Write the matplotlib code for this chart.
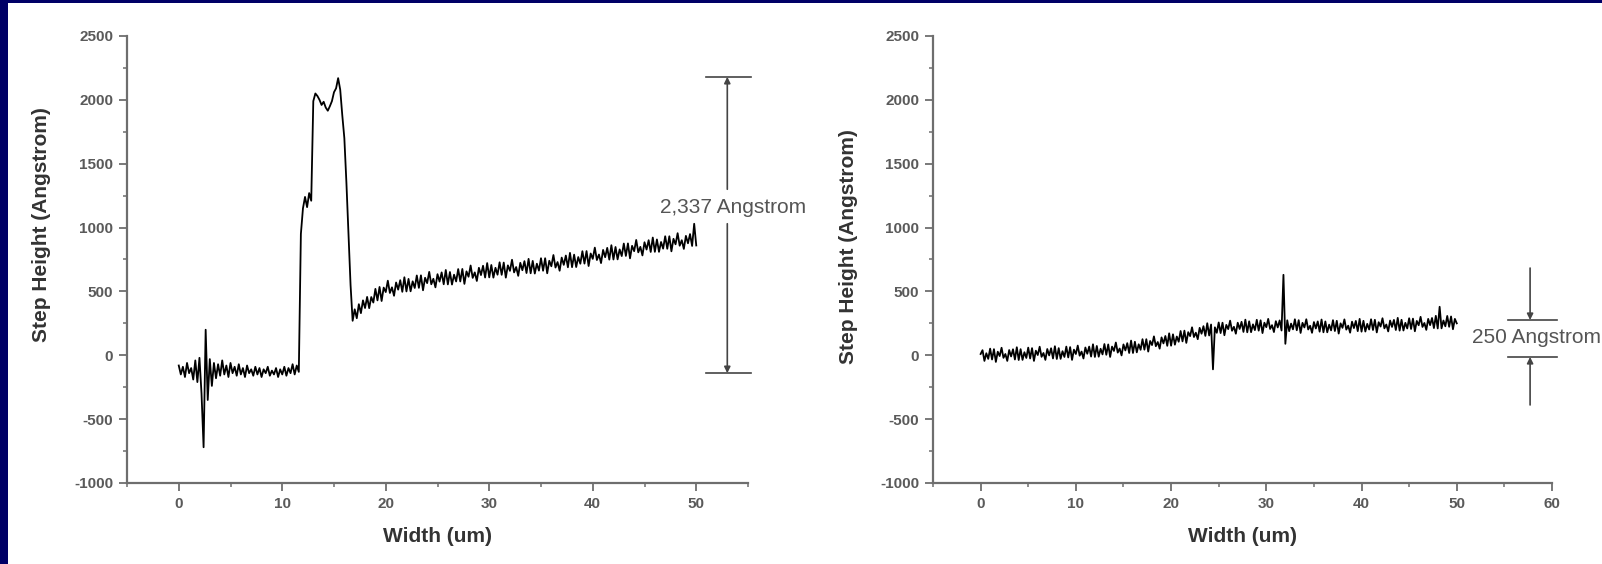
import numpy as np
import matplotlib
matplotlib.use("Agg")
import matplotlib.pyplot as plt
from matplotlib.ticker import MultipleLocator
from matplotlib.patches import Rectangle

plt.rcParams['font.family'] = ['Liberation Sans', 'DejaVu Sans']
plt.rcParams['axes.unicode_minus'] = False

# profiler samples every 0.2 um, starting at 0
step_um = 0.2

# left scan (before etch) - step height in Angstrom
height_left = [
    # 0.0 - 11.6 : substrate level, noisy spike near 2.5 um
    -80, -150, -90, -170, -60, -140, -100, -190, -40, -210,
    -20, -300, -720, 200, -350, -30, -240, -60, -180, -70,
    -160, -40, -150, -80, -170, -60, -140, -90, -160, -70,
    -150, -100, -170, -80, -140, -110, -160, -90, -150, -100,
    -170, -110, -140, -90, -160, -120, -150, -100, -170, -110,
    -150, -90, -160, -100, -140, -70, -150, -80, -130,
    # 11.8 - 18.0 : step up, double peak, drop
    950, 1150, 1240, 1160, 1270, 1210, 1990, 2050, 2030, 2000,
    1960, 1985, 1940, 1915, 1950, 1990, 2060, 2090, 2170, 2080,
    1880, 1700, 1350, 950, 550, 270, 360, 290, 400, 330,
    430, 370,
    # 18.2 - 50.0 : slowly rising film
    457, 369, 456, 413, 520, 430, 535, 425, 530, 495,
    584, 488, 532, 466, 570, 514, 588, 497, 611, 500,
    598, 501, 579, 527, 625, 528, 626, 509, 607, 565,
    653, 556, 599, 532, 635, 577, 649, 556, 668, 555,
    652, 554, 631, 578, 675, 578, 676, 559, 657, 615,
    703, 606, 649, 582, 685, 628, 701, 609, 722, 610,
    707, 608, 685, 631, 728, 630, 726, 608, 704, 661,
    748, 649, 691, 622, 724, 666, 737, 644, 755, 642,
    739, 640, 717, 663, 760, 662, 760, 642, 740, 697,
    785, 687, 730, 662, 765, 708, 781, 689, 802, 690,
    788, 691, 769, 717, 815, 718, 816, 699, 797, 755,
    843, 746, 789, 722, 825, 768, 841, 749, 862, 750,
    848, 751, 829, 777, 875, 778, 876, 759, 857, 815,
    903, 806, 849, 782, 885, 828, 901, 809, 922, 810,
    907, 810, 887, 835, 932, 834, 932, 814, 912, 869,
    956, 858, 901, 833, 935, 877, 949, 856, 1030, 860,
]

# right scan (after etch)
height_right = [
    10,
    40, -44, 16, -28, 52, -33, 48, -52, 28, -6,
    59, -20, 10, -44, 41, -9, 47, -33, 63, -37,
    48, -36, 24, -21, 60, -25, 56, -44, 36, 2,
    67, -12, 18, -36, 49, -1, 55, -25, 71, -29,
    56, -28, 32, -13, 68, -17, 64, -36, 44, 10,
    76, -3, 29, -25, 61, 12, 68, -10, 86, -13,
    73, -11, 51, 7, 88, 4, 85, -13, 68, 34,
    100, 21, 53, -1, 85, 38, 95, 18, 115, 18,
    106, 23, 86, 43, 126, 44, 126, 29, 112, 80,
    148, 71, 104, 52, 140, 93, 151, 74, 172, 75,
    164, 83, 147, 106, 190, 109, 193, 97, 181, 150,
    219, 143, 177, 126, 215, 169, 228, 152, 251, 155,
    241, -110, 219, 176, 257, 174, 255, 157, 238, 205,
    271, 192, 223, 169, 255, 206, 262, 183, 279, 180,
    266, 181, 242, 197, 278, 193, 274, 174, 255, 220,
    285, 206, 236, 182, 267, 218, 273, 194, 630, 90,
    274, 189, 248, 203, 282, 196, 275, 175, 254, 218,
    282, 202, 231, 176, 260, 210, 265, 185, 280, 180,
    265, 180, 240, 195, 275, 190, 270, 170, 250, 215,
    281, 201, 232, 177, 263, 213, 269, 189, 285, 185,
    270, 186, 246, 202, 282, 198, 278, 179, 259, 225,
    290, 211, 241, 187, 272, 222, 277, 198, 293, 193,
    278, 194, 254, 210, 290, 206, 287, 188, 269, 235,
    301, 222, 253, 199, 285, 236, 292, 213, 309, 210,
    380, 211, 272, 227, 308, 223, 304, 204, 285, 250,
]

x_left = np.arange(len(height_left)) * step_um
x_right = np.arange(len(height_right)) * step_um

y_ticks = [-1000, -500, 0, 500, 1000, 1500, 2000, 2500]

axis_grey = '#6e6e6e'
tick_grey = '#5a5a5a'
label_grey = '#333333'
note_grey = '#555555'

fig = plt.figure(figsize=(16.02, 5.64), dpi=100)
fig.patch.set_facecolor('white')
# navy slide frame on left and top
fig.patches.append(Rectangle((0, 0), 8 / 1602, 1, transform=fig.transFigure,
                             facecolor='#000066', edgecolor='none', zorder=0))
fig.patches.append(Rectangle((0, 1 - 3 / 564), 1, 3 / 564, transform=fig.transFigure,
                             facecolor='#000066', edgecolor='none', zorder=0))

ax1 = fig.add_axes([127 / 1602, 81 / 564, 621 / 1602, 447 / 564])
ax2 = fig.add_axes([933 / 1602, 81 / 564, 619 / 1602, 447 / 564])


def style_axes(ax, xmax, xticks, ylab_y):
    ax.set_xlim(-5, xmax)
    ax.set_ylim(-1000, 2500)
    ax.set_xticks(xticks)
    ax.set_yticks(y_ticks)
    ax.xaxis.set_minor_locator(MultipleLocator(5))
    ax.yaxis.set_minor_locator(MultipleLocator(250))
    for side in ['top', 'right']:
        ax.spines[side].set_visible(False)
    for side in ['left', 'bottom']:
        ax.spines[side].set_color(axis_grey)
        ax.spines[side].set_linewidth(1.6)
    ax.tick_params(which='major', direction='out', length=6, width=1.3,
                   color=axis_grey, labelcolor=tick_grey, labelsize=11, pad=4)
    ax.tick_params(which='minor', direction='out', length=3, width=1.1, color=axis_grey)
    for lab in ax.get_xticklabels() + ax.get_yticklabels():
        lab.set_fontweight('bold')
    ax.set_xlabel('Width (um)', fontsize=15, fontweight='bold', color=label_grey, va='center')
    ax.xaxis.set_label_coords(0.5, -54 / 447)
    ax.set_ylabel('Step Height (Angstrom)', fontsize=15, fontweight='bold',
                  color=label_grey, va='center')
    ax.yaxis.set_label_coords(-85 / 620, ylab_y)


ax1.plot(x_left, height_left, color='black', lw=1.3)
style_axes(ax1, 55, [0, 10, 20, 30, 40, 50], 0.579)

ax2.plot(x_right, height_right, color='black', lw=1.3)
style_axes(ax2, 60, [0, 10, 20, 30, 40, 50, 60], 0.528)

arrow_kw = dict(arrowstyle='-|>', color='#444444', lw=1.2, mutation_scale=9,
                shrinkA=0, shrinkB=0)

# left: 2,337 Angstrom step marker
for yb in [2180, -140]:
    ax1.plot([50.9, 55.3], [yb, yb], color='#444444', lw=1.2, clip_on=False)
ax1.annotate('', xy=(53.0, 2180), xytext=(53.0, 1300), arrowprops=arrow_kw,
             annotation_clip=False)
ax1.annotate('', xy=(53.0, -140), xytext=(53.0, 1030), arrowprops=arrow_kw,
             annotation_clip=False)
ax1.text(46.5, 1155, '2,337 Angstrom', fontsize=15, color=note_grey,
         ha='left', va='center', clip_on=False)

# right: 250 Angstrom step marker
for yb in [276, -13]:
    ax2.plot([55.4, 60.5], [yb, yb], color='#444444', lw=1.2, clip_on=False)
ax2.annotate('', xy=(57.7, 276), xytext=(57.7, 683), arrowprops=arrow_kw,
             annotation_clip=False)
ax2.annotate('', xy=(57.7, -13), xytext=(57.7, -389), arrowprops=arrow_kw,
             annotation_clip=False)
ax2.text(51.6, 140, '250 Angstrom', fontsize=15, color=note_grey,
         ha='left', va='center', clip_on=False)

fig.savefig('out.png', dpi=100, facecolor=fig.get_facecolor())
